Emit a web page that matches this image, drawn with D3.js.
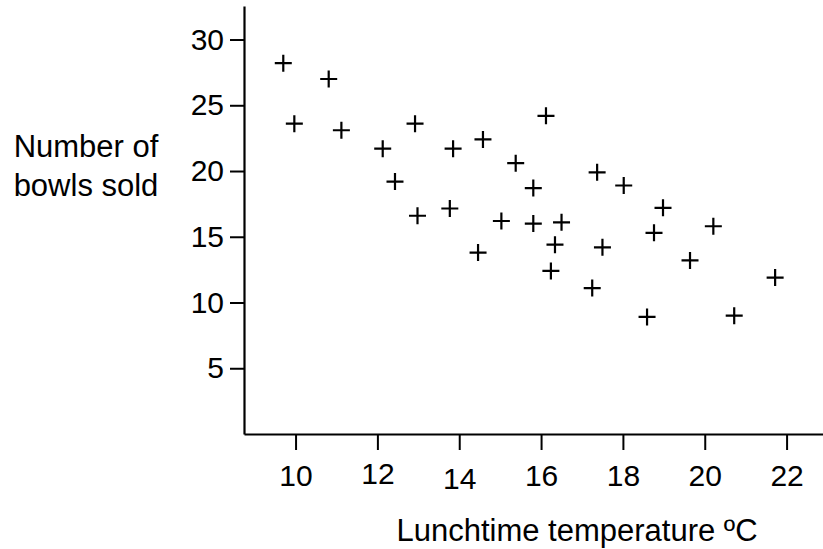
<!DOCTYPE html>
<html>
<head>
<meta charset="utf-8">
<script src="https://cdn.jsdelivr.net/npm/d3@7"></script>
<style>
  html, body { margin: 0; padding: 0; background: #fff; }
  svg { display: block; font-family: "Liberation Sans", Arial, Helvetica, sans-serif; }
</style>
</head>
<body>
<svg id="chart" width="823" height="549"></svg>
<script>
// ---- data ----
const temperature = [9.70, 10.81, 9.97, 11.12, 12.13, 12.92, 13.85, 14.58, 12.43, 16.12,
                     15.38, 17.37, 18.02, 15.81, 18.98, 15.03, 15.81, 16.50, 20.21, 18.76,
                     16.34, 17.50, 19.64, 16.24, 21.72, 17.25, 20.72, 18.59, 12.98, 13.77, 14.46];
const bowlsSold   = [28.2, 27.0, 23.6, 23.1, 21.7, 23.6, 21.7, 22.4, 19.2, 24.2,
                     20.6, 19.9, 18.9, 18.7, 17.2, 16.2, 16.0, 16.1, 15.8, 15.3,
                     14.4, 14.2, 13.2, 12.4, 11.9, 11.1, 9.0, 8.9, 16.6, 17.15, 13.8];
const xTicks = [10, 12, 14, 16, 18, 20, 22];
const yTicks = [5, 10, 15, 20, 25, 30];
const xTitle = "Lunchtime temperature ºC";
const yTitleLines = ["Number of", "bowls sold"];

// ---- layout ----
const svg = d3.select("#chart");
const x = d3.scaleLinear().domain([8.74, 22.89]).range([244, 823]);
const y = d3.scaleLinear().domain([0, 32.55]).range([434, 6]);

// x axis
const gx = svg.append("g").attr("transform", "translate(0,434)")
  .call(d3.axisBottom(x).tickValues(xTicks).tickFormat(d3.format("d"))
        .tickSize(16).tickSizeOuter(0).tickPadding(15));
// y axis
const gy = svg.append("g").attr("transform", "translate(244,0)")
  .call(d3.axisLeft(y).tickValues(yTicks).tickFormat(d3.format("d"))
        .tickSize(14).tickSizeOuter(0).tickPadding(6));

[gx, gy].forEach(g => {
  g.attr("font-family", null).attr("font-size", null);
  g.select(".domain").attr("stroke", "#000").attr("stroke-width", 2.2);
  g.selectAll(".tick line").attr("stroke", "#000").attr("stroke-width", 2);
  g.selectAll(".tick text").attr("fill", "#000").style("font-size", "30px");
});
// small hand-drawn label nudges seen in the original
const xLabelNudge = {12: -2, 14: 3};
gx.selectAll(".tick text").attr("transform", d => `translate(0,${xLabelNudge[d] || 0})`);

// markers
const plus = "M-8.5,0H8.5M0,-8.5V8.5";
svg.append("g").selectAll("path")
  .data(d3.range(temperature.length))
  .join("path")
  .attr("d", plus)
  .attr("transform", i => `translate(${x(temperature[i])},${y(bowlsSold[i])})`)
  .attr("stroke", "#000").attr("stroke-width", 2.2).attr("fill", "none");

// titles
svg.append("text")
  .attr("x", 577).attr("y", 541)
  .attr("text-anchor", "middle")
  .style("font-size", "31px").attr("fill", "#000")
  .text(xTitle);

svg.append("text")
  .attr("text-anchor", "middle")
  .style("font-size", "31px").attr("fill", "#000")
  .selectAll("tspan").data(yTitleLines).join("tspan")
  .attr("x", 86).attr("y", (d, i) => 157 + i * 39)
  .text(d => d);
</script>
</body>
</html>
